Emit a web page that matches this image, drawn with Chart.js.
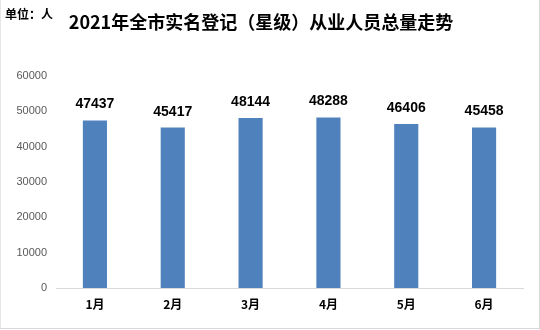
<!DOCTYPE html>
<html>
<head>
<meta charset="utf-8">
<script src="https://cdn.jsdelivr.net/npm/chart.js@4/dist/chart.umd.min.js"></script>
<style>
  html, body { margin: 0; padding: 0; background: #fff; }
  #wrap { position: relative; width: 538px; height: 328px; border-right: 1px solid #d9d9d9; border-bottom: 1px solid #d9d9d9; border-left: 1px solid #e6e6e6; }
  canvas { display: block; }
</style>
</head>
<body>
<div id="wrap"><canvas id="chart" width="538" height="328"></canvas></div>
<script>
// Data
const months = ['1月', '2月', '3月', '4月', '5月', '6月'];
const workers = [47437, 45417, 48144, 48288, 46406, 45458];
const yTicks = [0, 10000, 20000, 30000, 40000, 50000, 60000];

const titleText = '2021年全市实名登记（星级）从业人员总量走势';
const unitText = '单位：人';

const cjk = '"Noto Sans CJK SC", "Noto Sans", sans-serif';
const latin = '"Liberation Sans", Arial, sans-serif';

// header texts + value labels on top of bars
const labelsPlugin = {
    id: 'labels',
    afterDatasetsDraw(chart) {
        const ctx = chart.ctx;
        ctx.save();
        ctx.fillStyle = '#000';
        ctx.textBaseline = 'middle';
        ctx.textAlign = 'left';
        ctx.font = 'bold 12px ' + cjk;
        ctx.fillText(unitText, 4, 14);
        ctx.textAlign = 'center';
        ctx.font = 'bold 18px ' + cjk;
        ctx.fillText(titleText, 260, 22);

        ctx.font = 'bold 14px ' + latin;
        ctx.textBaseline = 'alphabetic';
        const meta = chart.getDatasetMeta(0);
        meta.data.forEach((bar, i) => {
            ctx.fillText(workers[i], bar.x, bar.y - 12);
        });
        ctx.restore();
    }
};

new Chart(document.getElementById('chart'), {
    type: 'bar',
    data: {
        labels: months,
        datasets: [{
            data: workers,
            backgroundColor: '#4f81bd',
            categoryPercentage: 1,
            barPercentage: 0.31
        }]
    },
    options: {
        responsive: false,
        animation: false,
        layout: { padding: { top: 76, right: 16, bottom: 0, left: 0 } },
        plugins: {
            legend: { display: false },
            tooltip: { enabled: false }
        },
        scales: {
            x: {
                grid: { display: false, drawTicks: false },
                border: { display: true, color: '#d9d9d9', width: 1 },
                ticks: {
                    color: '#000',
                    font: { family: cjk, size: 12, weight: 'bold' },
                    padding: 9
                },
                afterFit: s => { s.height = 40; }
            },
            y: {
                min: 0,
                max: 60000,
                afterBuildTicks: s => { s.ticks = yTicks.map(v => ({ value: v })); },
                grid: { display: false, drawTicks: false },
                border: { display: false },
                ticks: {
                    color: '#595959',
                    font: { family: latin, size: 11 },
                    padding: 9,
                    callback: v => String(v)
                },
                afterFit: s => { s.width = 55; }
            }
        }
    },
    plugins: [labelsPlugin]
});
</script>
</body>
</html>
